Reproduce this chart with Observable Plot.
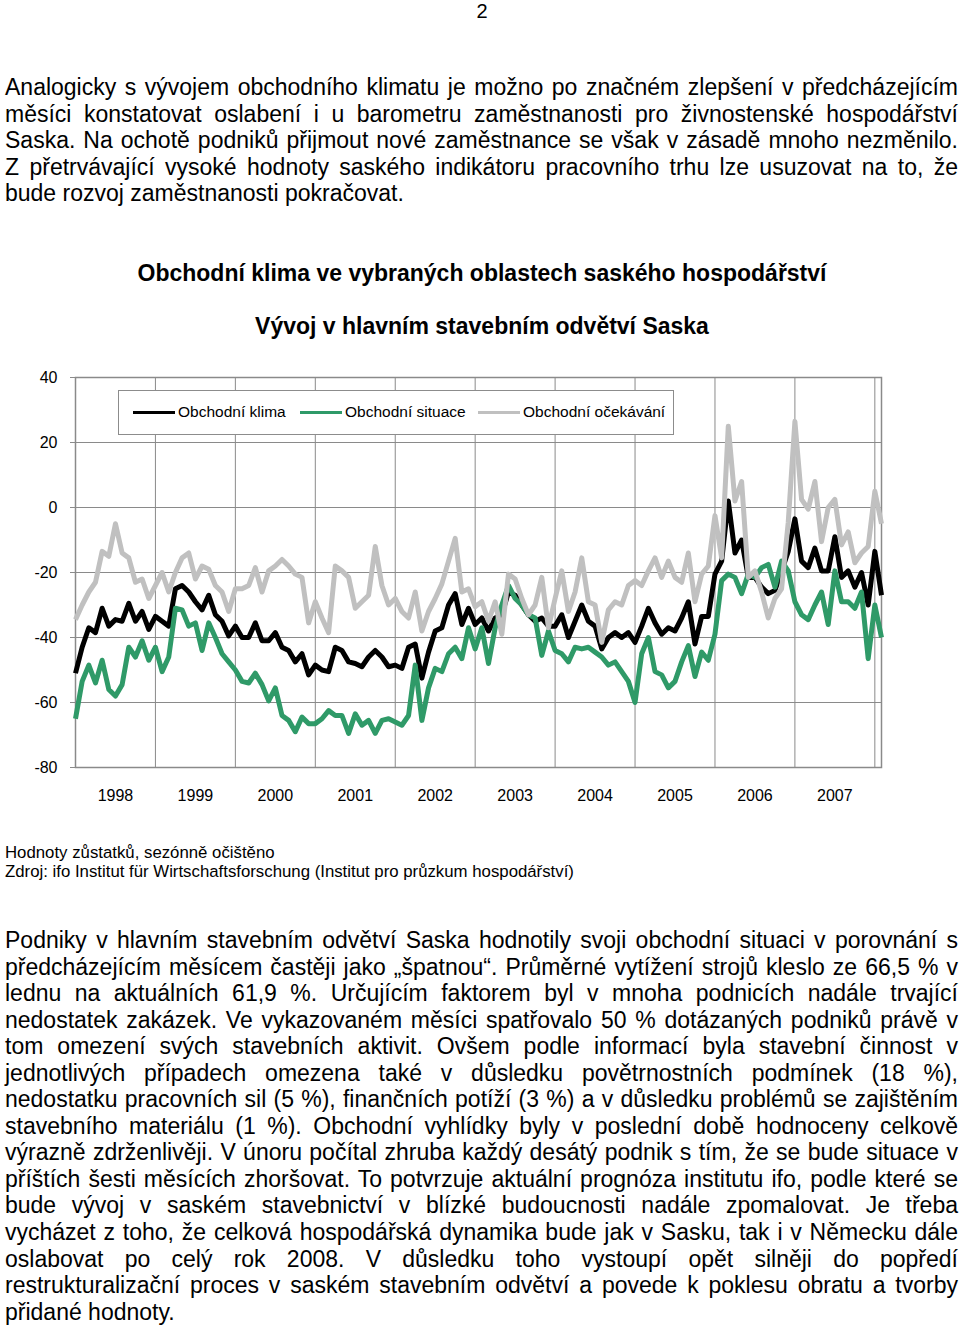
<!DOCTYPE html>
<html>
<head>
<meta charset="utf-8">
<script src="https://cdn.jsdelivr.net/npm/d3@7"></script>
<script src="https://cdn.jsdelivr.net/npm/@observablehq/plot@0.6"></script>
<style>
  html, body { margin: 0; padding: 0; background: #fff; }
  #page { position: relative; width: 960px; height: 1329px; font-family: "Liberation Sans", Arial, sans-serif; color: #000; overflow: hidden; }
  .abs { position: absolute; }
  .para { position: absolute; left: 5px; width: 953px; font-size: 23px; line-height: 26.55px; }
  .ln { text-align: justify; text-align-last: justify; white-space: nowrap; }
  .ln.last { text-align: left; text-align-last: left; }
  .ttl { position: absolute; left: 0; width: 964px; text-align: center; font-weight: bold; font-size: 23px; }
  .note { position: absolute; left: 5px; font-size: 16.8px; line-height: 19px; white-space: nowrap; }
  #legend { position: absolute; left: 118px; top: 390px; width: 554px; height: 43px; border: 1px solid #8c8c8c; background: #fff; font-size: 15.5px; }
  #legend .sw { position: absolute; top: 20px; height: 3px; width: 42px; }
  #legend .lb { position: absolute; top: 12px; line-height: 18px; white-space: nowrap; }
</style>
</head>
<body>
<div id="page">
  <div class="abs" style="left:0;width:964px;top:0px;text-align:center;font-size:20px;line-height:23px;">2</div>
  <div class="para" style="top:74px;">
    <div class="ln">Analogicky s vývojem obchodního klimatu je možno po značném zlepšení v předcházejícím</div>
    <div class="ln">měsíci konstatovat oslabení i u barometru zaměstnanosti pro živnostenské hospodářství</div>
    <div class="ln">Saska. Na ochotě podniků přijmout nové zaměstnance se však v zásadě mnoho nezměnilo.</div>
    <div class="ln">Z přetrvávající vysoké hodnoty saského indikátoru pracovního trhu lze usuzovat na to, že</div>
    <div class="ln last">bude rozvoj zaměstnanosti pokračovat.</div>
  </div>
  <div class="ttl" style="top:260px;line-height:26px;">Obchodní klima ve vybraných oblastech saského hospodářství</div>
  <div class="ttl" style="top:313px;line-height:26px;">Vývoj v hlavním stavebním odvětví Saska</div>
  <div id="chart" class="abs" style="left:0;top:360px;"></div>
  <div id="legend"></div>
  <div class="note" style="top:843px;">Hodnoty zůstatků, sezónně očištěno</div>
  <div class="note" style="top:862px;">Zdroj: ifo Institut für Wirtschaftsforschung (Institut pro průzkum hospodářství)</div>
  <div class="para" style="top:927px;">
    <div class="ln">Podniky v hlavním stavebním odvětví Saska hodnotily svoji obchodní situaci v porovnání s</div>
    <div class="ln">předcházejícím měsícem častěji jako „špatnou“. Průměrné vytížení strojů kleslo ze 66,5 % v</div>
    <div class="ln">lednu na aktuálních 61,9 %. Určujícím faktorem byl v mnoha podnicích nadále trvající</div>
    <div class="ln">nedostatek zakázek. Ve vykazovaném měsíci spatřovalo 50 % dotázaných podniků právě v</div>
    <div class="ln">tom omezení svých stavebních aktivit. Ovšem podle informací byla stavební činnost v</div>
    <div class="ln">jednotlivých případech omezena také v důsledku povětrnostních podmínek (18 %),</div>
    <div class="ln">nedostatku pracovních sil (5 %), finančních potíží (3 %) a v důsledku problémů se zajištěním</div>
    <div class="ln">stavebního materiálu (1 %). Obchodní vyhlídky byly v poslední době hodnoceny celkově</div>
    <div class="ln">výrazně zdrženlivěji. V únoru počítal zhruba každý desátý podnik s tím, že se bude situace v</div>
    <div class="ln">příštích šesti měsících zhoršovat. To potvrzuje aktuální prognóza institutu ifo,  podle které se</div>
    <div class="ln">bude vývoj v saském stavebnictví v blízké budoucnosti nadále zpomalovat. Je třeba</div>
    <div class="ln">vycházet z toho, že celková hospodářská dynamika bude jak v Sasku, tak i v Německu dále</div>
    <div class="ln">oslabovat po celý rok 2008. V důsledku toho vystoupí opět silněji do popředí</div>
    <div class="ln">restrukturalizační proces v saském stavebním odvětví a povede k poklesu obratu a tvorby</div>
    <div class="ln last">přidané hodnoty.</div>
  </div>
</div>
<script>
// Monthly series, January 1998 – February 2008 (balance values, seasonally adjusted)
const yearLabels = ["1998", "1999", "2000", "2001", "2002", "2003", "2004", "2005", "2006", "2007"];
const yTicks = [-80, -60, -40, -20, 0, 20, 40];
const seriesNames = ["Obchodní klima", "Obchodní situace", "Obchodní očekávání"];
const seriesColors = ["#000000", "#2f9a68", "#c0c0c0"];

const klima = [
  -51, -43, -37, -38.5, -31, -36.5, -34.5, -35, -29.5, -35, -32, -37.5,
  -33.5, -35, -36.5, -25, -24, -26, -29, -31.5, -27, -33, -35, -39.5,
  -36.5, -40, -40, -35.5, -41, -41, -38.5, -43, -44, -47.5, -45, -51.5,
  -48.5, -50, -50.5, -43, -44, -47.5, -48, -49, -46, -44, -46, -49,
  -48.5, -49.5, -43, -42, -52.5, -44.5, -38, -37, -30, -26.5, -36, -31,
  -36, -34, -38, -34, -33, -26, -27, -30, -33, -35, -34, -36.5,
  -36.5, -33, -40, -35, -30, -35, -36.5, -43.5, -40, -38.5, -40, -38.5,
  -41.5, -36.5, -31, -35.5, -39, -37, -38, -34, -29, -42, -33.5, -33.5,
  -20.5, -16.5, 2, -14, -10, -21.5, -21.5, -24.5, -26.5, -25.5, -19.5, -13.5,
  -3.5, -16.5, -18.5, -12.5, -19.5, -19.5, -9, -21.5, -19.5, -24.5, -20, -30,
  -13.5, -27
];
const situace = [
  -65, -53.5, -48.5, -54, -47, -56, -58, -54.5, -43, -46, -41, -47,
  -43, -50.5, -46, -31, -31.5, -36.5, -35.5, -44, -35.5, -40, -45, -47.5,
  -50, -53.5, -54, -51, -54.5, -59.5, -55.5, -64, -65.5, -69, -64.5, -66.5,
  -66.5, -65, -62.5, -64, -64, -69.5, -63.5, -67, -65.5, -69.5, -65.5, -65,
  -66, -67, -64, -48.5, -65.5, -55.5, -49.5, -50.5, -45, -43, -46.5, -37,
  -43.5, -37, -48, -37, -30, -24, -28, -30, -33, -34, -45.5, -38,
  -44, -45, -47.5, -43, -43.5, -43, -44.5, -46, -48.5, -47.5, -50.5, -53.5,
  -60, -45, -40, -50.5, -51.5, -55.5, -53.5, -47.5, -42.5, -52, -44.5, -47,
  -39, -22.5, -20.5, -21.5, -26.5, -20.5, -21.5, -18.5, -17.5, -24.5, -16.5, -19.5,
  -29, -33, -34.5, -30, -26, -36, -19.5, -29, -29, -31, -26, -46.5,
  -30, -40
];
const ocekavani = [
  -34.5, -30, -26, -23, -13.5, -15, -5, -14, -15.5, -23, -22, -28,
  -24, -20, -26, -20, -15.5, -14, -22, -18, -19, -24, -26, -32,
  -25, -25, -24, -18.5, -26, -19.5, -18, -16, -18, -20.5, -21.5, -35.5,
  -29, -34, -38.5, -18, -19.5, -21.5, -31, -29, -27, -12, -24, -30,
  -28, -32, -34, -26, -38, -32, -28, -23.5, -16.5, -9.5, -26, -25,
  -30.5, -29, -35, -29, -39, -20.5, -22, -28, -33, -30, -21.5, -37,
  -28, -19.5, -32, -26, -15.5, -29, -30, -41.5, -31.5, -29, -30, -24,
  -22.5, -24, -19.5, -15.5, -21.5, -16.5, -21.5, -23, -14, -29, -20.5, -18,
  -2.5, -15.5, 25, 2, 8, -21.5, -19.5, -26, -34, -28, -25, -4.5,
  26.5, 2.5, -0.5, 8, -10.5, 0, 2.5, -11.5, -7.5, -17, -14, -12,
  5, -5
];

const seriesValues = [klima, situace, ocekavani];
const rows = [];
seriesValues.forEach((vals, s) => {
  vals.forEach((v, i) => rows.push({series: seriesNames[s], month: i, value: v}));
});
const nMonths = klima.length;
const yearStarts = d3.range(12, nMonths, 12);          // boundaries between years
const yearCenters = yearLabels.map((_, k) => k * 12 + 6); // middle of each year

const chart = Plot.plot({
  width: 960,
  height: 447,
  marginTop: 17,
  marginBottom: 40,
  marginLeft: 75,
  marginRight: 79,
  style: {fontFamily: "'Liberation Sans', Arial, sans-serif", background: "transparent", color: "#000", overflow: "visible"},
  x: {type: "linear", domain: [0, nMonths - 1]},
  y: {domain: [-80, 40]},
  color: {domain: seriesNames, range: seriesColors},
  marks: [
    Plot.gridY(yTicks, {stroke: "#8a8a8a", strokeOpacity: 1, strokeWidth: 1}),
    Plot.gridX(yearStarts, {stroke: "#8a8a8a", strokeOpacity: 1, strokeWidth: 1}),
    Plot.frame({stroke: "#8a8a8a", strokeWidth: 1.5}),
    Plot.axisY(yTicks, {tickSize: 5, tickPadding: 13, fontSize: 16, stroke: "#8a8a8a", label: null,
      tickFormat: d => String(d)}),
    Plot.axisX(yearCenters, {tickSize: 0, tickPadding: 22, fontSize: 16, label: null,
      tickFormat: d => yearLabels[(d - 6) / 12]}),
    Plot.line(rows, {x: "month", y: "value", z: "series", stroke: "series",
      strokeWidth: 5, strokeLinejoin: "round", strokeLinecap: "butt"})
  ]
});
document.getElementById("chart").appendChild(chart);

// Legend (HTML overlay)
const legend = document.getElementById("legend");
const swatchLeft = [14, 181, 359];
seriesNames.forEach((name, s) => {
  const sw = document.createElement("div");
  sw.className = "sw";
  sw.style.left = swatchLeft[s] + "px";
  sw.style.background = seriesColors[s];
  legend.appendChild(sw);
  const lb = document.createElement("div");
  lb.className = "lb";
  lb.style.left = (swatchLeft[s] + 45) + "px";
  lb.textContent = name;
  legend.appendChild(lb);
});
</script>
</body>
</html>
